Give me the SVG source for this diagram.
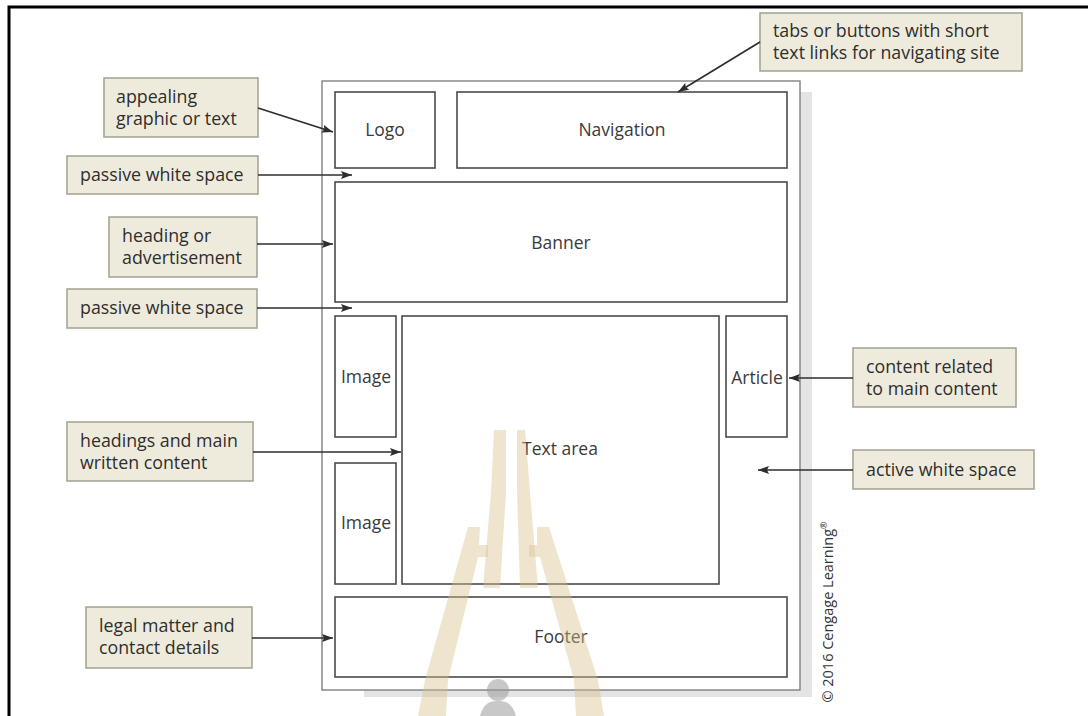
<svg xmlns="http://www.w3.org/2000/svg" width="1088" height="716" viewBox="0 0 1088 716">
  <style>
    .lbl rect { fill: #eeebdc; stroke: #a3a190; stroke-width: 1.5; }
    .lbl text { font-family: "Open Sans", "Liberation Sans", sans-serif; font-size: 17.8px; fill: #2e2e2e; }
    .box rect { fill: #fff; stroke: #4a4a4a; stroke-width: 1.6; }
    .box text { font-family: "Open Sans", "Liberation Sans", sans-serif; font-size: 17.5px; fill: #3a3a3a; text-anchor: middle; }
    .conn line { stroke: #2e2e2e; stroke-width: 1.7; marker-end: url(#ah); }
    .wm { fill: #d9c28c; opacity: 0.42; }
  </style>
  <defs>
    <marker id="ah" viewBox="0 0 11 8" refX="11" refY="4" markerWidth="11" markerHeight="8" markerUnits="userSpaceOnUse" orient="auto">
      <path d="M0,0 L11,4 L0,8 L2,4 Z" fill="#2e2e2e"/>
    </marker>
  </defs>
  <rect width="1088" height="716" fill="#fff"/>
  <!-- outer frame -->
  <path d="M9,716 V7 H1088" fill="none" stroke="#000" stroke-width="3"/>

  <!-- page shadow and outline -->
  <g id="page">
    <rect x="800" y="92" width="12" height="605" fill="#e4e4e4"/>
    <rect x="364" y="690" width="448" height="7" fill="#e4e4e4"/>
    <rect x="322" y="81" width="478" height="609" fill="#fff" stroke="#777" stroke-width="1.3"/>
  </g>

  <!-- layout nodes -->
  <g id="logo" class="box"><rect x="335" y="92" width="100" height="76"/><text x="385" y="136">Logo</text></g>
  <g id="navigation" class="box"><rect x="457" y="92" width="330" height="76"/><text x="622" y="136">Navigation</text></g>
  <g id="banner" class="box"><rect x="335" y="182" width="452" height="120"/><text x="561" y="249">Banner</text></g>
  <g id="image1" class="box"><rect x="335" y="316" width="61" height="121"/><text x="366" y="383">Image</text></g>
  <g id="textarea" class="box"><rect x="402" y="316" width="317" height="268"/><text x="560" y="455">Text area</text></g>
  <g id="article" class="box"><rect x="726" y="316" width="61" height="121"/><text x="757" y="384">Article</text></g>
  <g id="image2" class="box"><rect x="335" y="463" width="61" height="121"/><text x="366" y="529">Image</text></g>
  <g id="footer" class="box"><rect x="335" y="597" width="452" height="80"/><text x="561" y="643">Footer</text></g>

  <!-- watermark (overlaid) -->
  <g id="watermark">
    <polygon class="wm" points="494,430 506,430 506,492 500,588 483,588 491,492"/>
    <polygon class="wm" points="517,430 525,430 530,492 538,588 520,588 517,492"/>
    <polygon class="wm" points="468,527 480,527 479,545 488,545 488,557 478,557 448,680 446,716 418,716 425,680"/>
    <polygon class="wm" points="549,527 537,527 537,545 529,545 529,557 540,557 574,680 576,716 604,716 598,680"/>
    <circle cx="498" cy="690" r="11" fill="#9a9a9a" opacity="0.55"/>
    <path d="M480,716 Q484,700 498,701 Q512,700 516,716 Z" fill="#9a9a9a" opacity="0.55"/>
  </g>

  <!-- callout labels -->
  <g id="lbl-appealing" class="lbl"><rect x="104" y="78" width="154" height="59"/><text x="116" y="103">appealing</text><text x="116" y="125">graphic or text</text></g>
  <g id="lbl-passive1" class="lbl"><rect x="67" y="156" width="191" height="38"/><text x="80" y="181">passive white space</text></g>
  <g id="lbl-heading" class="lbl"><rect x="109" y="217" width="148" height="60"/><text x="122" y="242">heading or</text><text x="122" y="264">advertisement</text></g>
  <g id="lbl-passive2" class="lbl"><rect x="67" y="289" width="190" height="39"/><text x="80" y="314">passive white space</text></g>
  <g id="lbl-headings" class="lbl"><rect x="67" y="422" width="186" height="59"/><text x="80" y="447">headings and main</text><text x="80" y="469">written content</text></g>
  <g id="lbl-legal" class="lbl"><rect x="86" y="607" width="166" height="61"/><text x="99" y="632">legal matter and</text><text x="99" y="654">contact details</text></g>
  <g id="lbl-tabs" class="lbl"><rect x="760" y="13" width="262" height="58"/><text x="773" y="37">tabs or buttons with short</text><text x="773" y="59">text links for navigating site</text></g>
  <g id="lbl-related" class="lbl"><rect x="853" y="348" width="163" height="59"/><text x="866" y="373">content related</text><text x="866" y="395">to main content</text></g>
  <g id="lbl-active" class="lbl"><rect x="853" y="450" width="181" height="39"/><text x="866" y="476">active white space</text></g>

  <!-- connectors -->
  <g id="connectors" class="conn">
    <line x1="258" y1="108" x2="333" y2="132"/>
    <line x1="258" y1="175" x2="352" y2="175"/>
    <line x1="257" y1="244" x2="333" y2="244"/>
    <line x1="257" y1="308" x2="352" y2="308"/>
    <line x1="253" y1="452" x2="401" y2="452"/>
    <line x1="252" y1="638" x2="333" y2="638"/>
    <line x1="760" y1="42" x2="678" y2="92"/>
    <line x1="853" y1="378" x2="789" y2="378"/>
    <line x1="853" y1="470" x2="758" y2="470"/>
  </g>

  <!-- copyright -->
  <text transform="translate(833,612) rotate(-90)" text-anchor="middle" font-family="'Open Sans', 'Liberation Sans', sans-serif" font-size="14.5" fill="#333">© 2016 Cengage Learning<tspan font-size="9" dy="-6">®</tspan></text>
</svg>
